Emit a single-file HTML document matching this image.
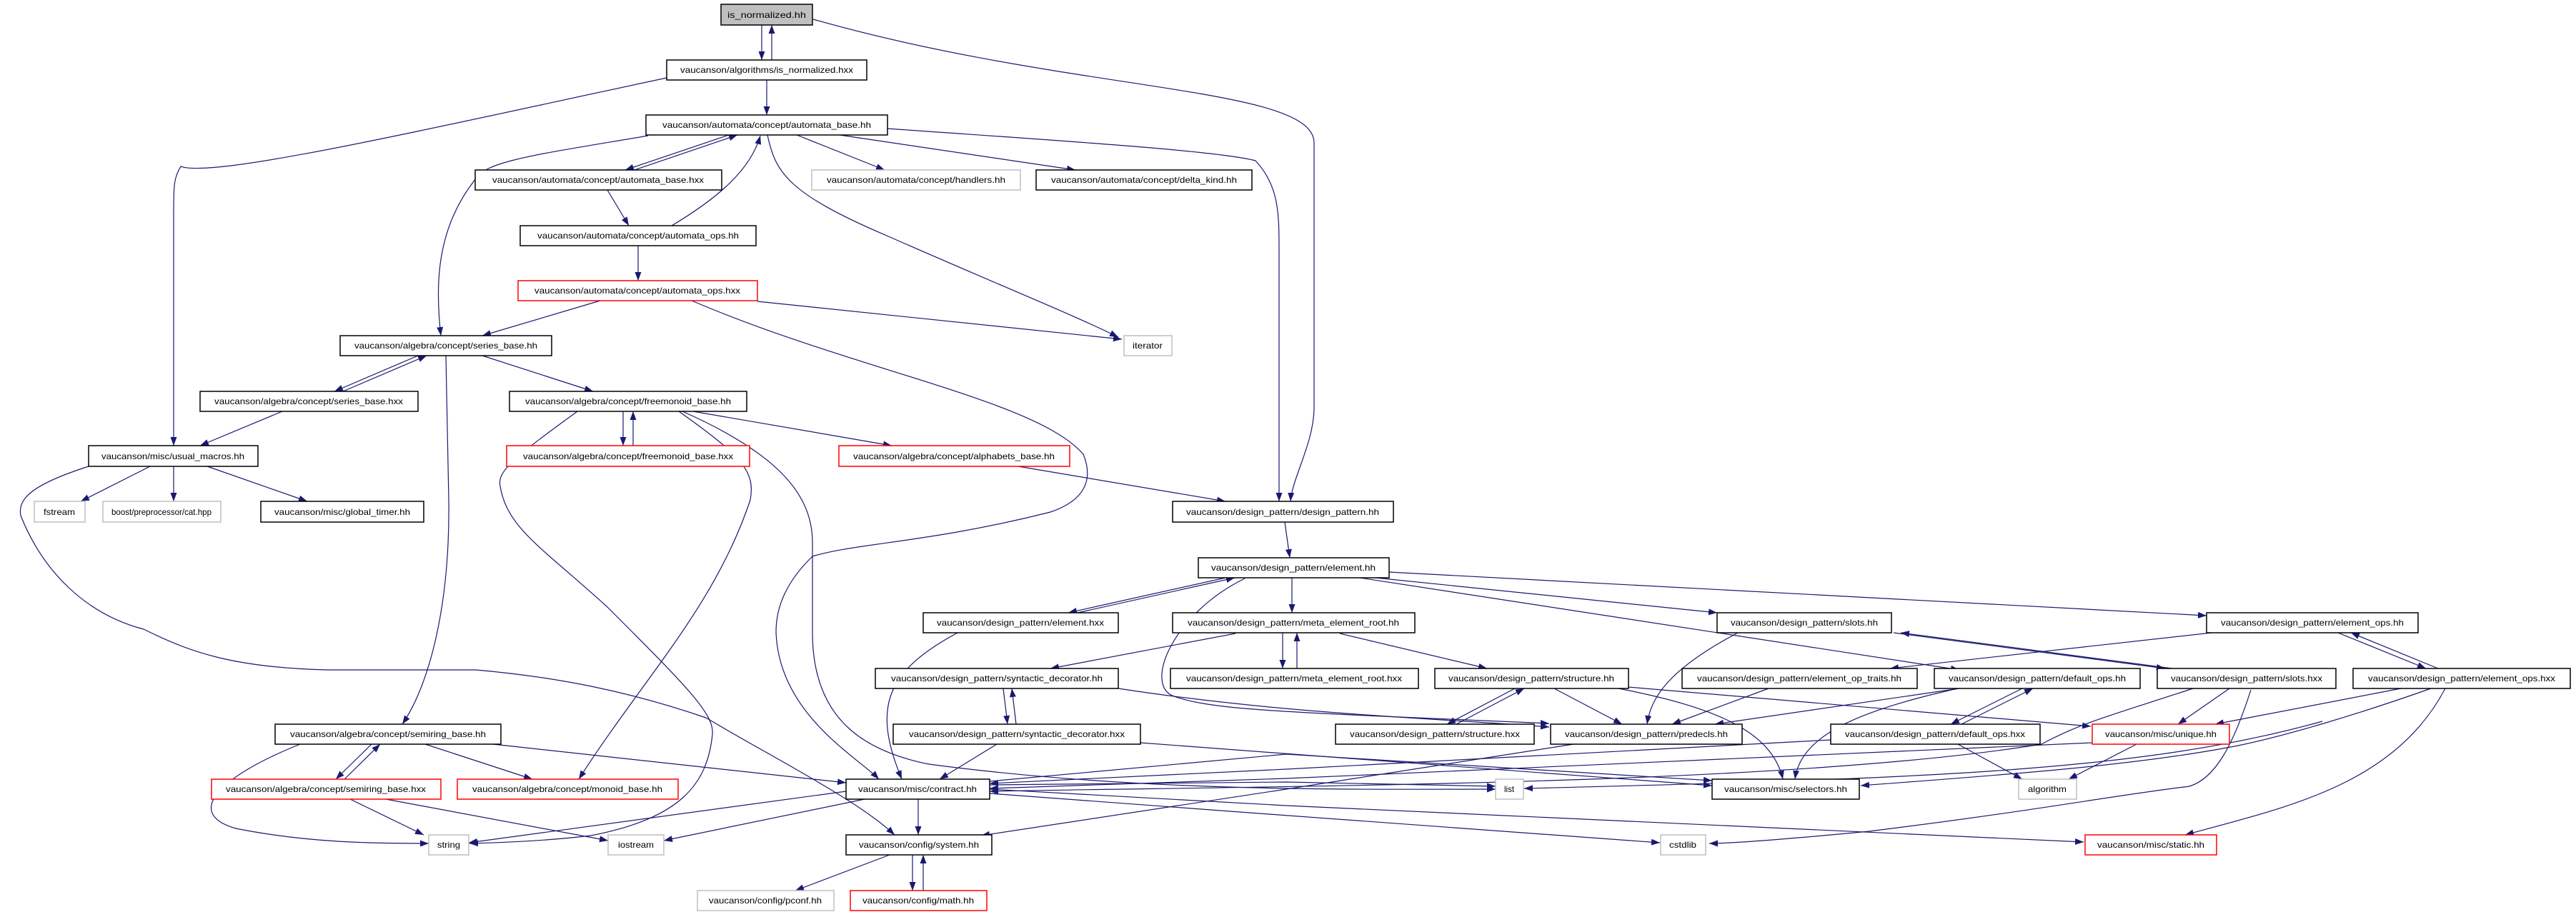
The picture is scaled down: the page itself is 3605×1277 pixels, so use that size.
<!DOCTYPE html>
<html><head><meta charset="utf-8"><style>
html,body{margin:0;padding:0;background:#fff;}
svg{display:block;}
text{font-family:"Liberation Sans",sans-serif;font-size:12px;fill:#000;}
</style></head><body>
<svg width="3605" height="1277" viewBox="0 0 3605 1277" xmlns="http://www.w3.org/2000/svg">
<defs>
<marker id="a" markerUnits="userSpaceOnUse" markerWidth="13" markerHeight="9" refX="12" refY="4.5" orient="auto">
<path d="M0,0 L12,4.5 L0,9 z" fill="#191970"/>
</marker>
</defs>
<g fill="none" stroke="#191970" stroke-width="1.2" marker-end="url(#a)">
<path d="M1066,35 L1066,84"/>
<path d="M1080,84 L1080,35"/>
<path d="M1138,27 C1500,130 1839,120 1839,200 L1839,570 C1839,620 1808,670 1806,702"/>
<path d="M1073,112 L1073,161"/>
<path d="M933,109 C600,180 300,250 253,233 C243,250 243,260 243,300 L243,624"/>
<path d="M1020,189 L875,238"/>
<path d="M888,238 L1032,189"/>
<path d="M1115,189 L1238,238"/>
<path d="M1175,189 L1505,238"/>
<path d="M1242,180 C1450,195 1700,210 1757,225 C1790,260 1790,300 1790,350 L1790,702"/>
<path d="M1074,189 C1085,240 1100,270 1241,330 C1400,400 1500,440 1565,472"/>
<path d="M907,190 C760,215 680,225 666,250 C610,320 609,400 617,470"/>
<path d="M850,266 L880,316"/>
<path d="M940,316 C1000,280 1050,240 1064,190"/>
<path d="M893,344 L893,393"/>
<path d="M840,421 L675,470"/>
<path d="M1060,422 L1570,475"/>
<path d="M968,421 C1200,520 1450,560 1516,636 C1530,670 1520,700 1470,717 C1300,760 1200,760 1137,779 C1100,815 1086,850 1086,885 C1090,1000 1200,1060 1230,1091"/>
<path d="M585,498 L468,548"/>
<path d="M480,548 L597,498"/>
<path d="M675,498 L830,548"/>
<path d="M624,498 L628,700 C630,850 600,960 563,1014"/>
<path d="M395,576 L280,624"/>
<path d="M872,576 L872,624"/>
<path d="M886,624 L886,576"/>
<path d="M808,576 C720,640 695,660 700,681 C710,740 758,766 850,850 C960,960 1000,1000 997,1028 C990,1100 950,1146 827,1170 C760,1178 700,1180 657,1181"/>
<path d="M950,576 C1040,640 1057,660 1050,700 C1000,850 900,950 810,1091"/>
<path d="M955,576 C1100,640 1137,700 1137,760 L1137,885 C1137,1000 1200,1050 1300,1070 C1600,1110 1900,1105 2093,1105"/>
<path d="M970,576 L1248,624"/>
<path d="M1425,653 L1715,702"/>
<path d="M210,653 L113,702"/>
<path d="M243,653 L243,702"/>
<path d="M290,653 L430,702"/>
<path d="M124,653 C40,680 25,700 29,722 C60,800 120,860 201,881 C260,910 320,935 459,938 L666,938 C780,948 880,968 988,1005 C1080,1060 1200,1120 1252,1169"/>
<path d="M1798,731 L1805,781"/>
<path d="M1715,809 L1495,858"/>
<path d="M1508,858 L1728,809"/>
<path d="M1808,809 L1808,858"/>
<path d="M1944,801 L3088,862"/>
<path d="M1903,809 L2742,938"/>
<path d="M1925,809 L2403,858"/>
<path d="M1742,810 C1640,860 1600,960 1643,975 C1700,995 1800,997 2168,1013"/>
<path d="M1795,886 L1795,936"/>
<path d="M1815,936 L1815,886"/>
<path d="M1875,887 L2081,936"/>
<path d="M1729,887 L1470,936"/>
<path d="M1404,964 L1410,1014"/>
<path d="M1422,1014 L1416,964"/>
<path d="M1565,964 C1800,1000 2000,1005 2168,1018"/>
<path d="M1395,1042 L1315,1091"/>
<path d="M1596,1040 L2396,1100"/>
<path d="M1340,886 C1240,940 1220,990 1262,1091"/>
<path d="M2120,964 L2025,1014"/>
<path d="M2038,1014 L2133,964"/>
<path d="M2175,964 L2270,1014"/>
<path d="M2265,964 C2400,990 2480,1024 2495,1091"/>
<path d="M2279,962 L2926,1017"/>
<path d="M2475,964 L2340,1014"/>
<path d="M2432,886 C2330,940 2310,980 2305,1014"/>
<path d="M2650,886 L3030,936"/>
<path d="M3040,936 L2660,886"/>
<path d="M3095,886 L2645,936"/>
<path d="M3272,886 L3395,936"/>
<path d="M3412,936 L3290,886"/>
<path d="M2742,964 L2400,1014"/>
<path d="M2830,964 L2730,1014"/>
<path d="M2745,1014 L2845,964"/>
<path d="M2740,964 C2600,995 2520,1030 2512,1091"/>
<path d="M2740,1042 L2830,1091"/>
<path d="M2562,1036 L1800,1077 L1385,1097"/>
<path d="M2202,1042 L1800,1105 L1373,1170"/>
<path d="M2990,1042 L2895,1091"/>
<path d="M2928,1040 L1800,1090 L1385,1104"/>
<path d="M3069,964 C2960,1000 2914,1011 2857,1042 C2500,1100 1800,1100 1385,1108"/>
<path d="M3120,964 L3048,1014"/>
<path d="M3150,966 C3125,1044 3100,1090 3064,1101 C2950,1115 2857,1134 2616,1164 C2500,1175 2420,1181 2392,1181"/>
<path d="M3360,964 L3100,1014"/>
<path d="M3402,964 C3300,1000 3200,1030 3132,1044 C3000,1070 2834,1083 2604,1100"/>
<path d="M3422,964 C3350,1100 3200,1130 3058,1169"/>
<path d="M3250,1010 C3000,1080 2700,1090 2133,1104"/>
<path d="M1184,1108 L656,1180"/>
<path d="M1210,1119 L929,1177"/>
<path d="M1285,1119 L1285,1169"/>
<path d="M1385,1111 L1803,1142 L2323,1180"/>
<path d="M1385,1105 L1800,1128 L2916,1179"/>
<path d="M1385,1099 L1800,1095 L2093,1101"/>
<path d="M1385,1094 L1800,1056 L2396,1093"/>
<path d="M520,1042 L470,1091"/>
<path d="M482,1091 L532,1042"/>
<path d="M595,1042 L745,1091"/>
<path d="M690,1042 L1184,1096"/>
<path d="M420,1042 C300,1090 260,1140 330,1160 C430,1180 520,1181 600,1181"/>
<path d="M490,1119 L593,1169"/>
<path d="M540,1119 L851,1177"/>
<path d="M1245,1197 L1113,1247"/>
<path d="M1277,1197 L1277,1247"/>
<path d="M1292,1247 L1292,1197"/>
</g>
<g stroke-width="1.5" text-anchor="middle" font-family="Liberation Sans, sans-serif">
<rect x="1009" y="6" width="128" height="29" fill="#bfbfbf" stroke="#000"/><text x="1073" y="25" textLength="110" lengthAdjust="spacingAndGlyphs">is_normalized.hh</text>
<rect x="933" y="84" width="280" height="28" fill="#fff" stroke="#000"/><text x="1073" y="102" textLength="242" lengthAdjust="spacingAndGlyphs">vaucanson/algorithms/is_normalized.hxx</text>
<rect x="904" y="161" width="338" height="28" fill="#fff" stroke="#000"/><text x="1073" y="179" textLength="292" lengthAdjust="spacingAndGlyphs">vaucanson/automata/concept/automata_base.hh</text>
<rect x="665" y="238" width="345" height="28" fill="#fff" stroke="#000"/><text x="837" y="256" textLength="296" lengthAdjust="spacingAndGlyphs">vaucanson/automata/concept/automata_base.hxx</text>
<rect x="1136" y="238" width="292" height="28" fill="#fff" stroke="#bfbfbf"/><text x="1282" y="256" textLength="250" lengthAdjust="spacingAndGlyphs">vaucanson/automata/concept/handlers.hh</text>
<rect x="1450" y="238" width="302" height="28" fill="#fff" stroke="#000"/><text x="1601" y="256" textLength="260" lengthAdjust="spacingAndGlyphs">vaucanson/automata/concept/delta_kind.hh</text>
<rect x="728" y="316" width="330" height="28" fill="#fff" stroke="#000"/><text x="893" y="334" textLength="282" lengthAdjust="spacingAndGlyphs">vaucanson/automata/concept/automata_ops.hh</text>
<rect x="725" y="393" width="335" height="28" fill="#fff" stroke="#ff0000"/><text x="892" y="411" textLength="288" lengthAdjust="spacingAndGlyphs">vaucanson/automata/concept/automata_ops.hxx</text>
<rect x="1573" y="470" width="67" height="28" fill="#fff" stroke="#bfbfbf"/><text x="1606" y="488" textLength="42" lengthAdjust="spacingAndGlyphs">iterator</text>
<rect x="476" y="470" width="296" height="28" fill="#fff" stroke="#000"/><text x="624" y="488" textLength="256" lengthAdjust="spacingAndGlyphs">vaucanson/algebra/concept/series_base.hh</text>
<rect x="280" y="548" width="305" height="28" fill="#fff" stroke="#000"/><text x="432" y="566" textLength="264" lengthAdjust="spacingAndGlyphs">vaucanson/algebra/concept/series_base.hxx</text>
<rect x="713" y="548" width="332" height="28" fill="#fff" stroke="#000"/><text x="879" y="566" textLength="288" lengthAdjust="spacingAndGlyphs">vaucanson/algebra/concept/freemonoid_base.hh</text>
<rect x="124" y="624" width="237" height="29" fill="#fff" stroke="#000"/><text x="242" y="643" textLength="200" lengthAdjust="spacingAndGlyphs">vaucanson/misc/usual_macros.hh</text>
<rect x="709" y="624" width="340" height="29" fill="#fff" stroke="#ff0000"/><text x="879" y="643" textLength="294" lengthAdjust="spacingAndGlyphs">vaucanson/algebra/concept/freemonoid_base.hxx</text>
<rect x="1174" y="624" width="323" height="29" fill="#fff" stroke="#ff0000"/><text x="1335" y="643" textLength="282" lengthAdjust="spacingAndGlyphs">vaucanson/algebra/concept/alphabets_base.hh</text>
<rect x="48" y="702" width="71" height="29" fill="#fff" stroke="#bfbfbf"/><text x="83" y="721" textLength="44" lengthAdjust="spacingAndGlyphs">fstream</text>
<rect x="144" y="702" width="165" height="29" fill="#fff" stroke="#bfbfbf"/><text x="226" y="721" textLength="140" lengthAdjust="spacingAndGlyphs">boost/preprocessor/cat.hpp</text>
<rect x="365" y="702" width="228" height="29" fill="#fff" stroke="#000"/><text x="479" y="721" textLength="190" lengthAdjust="spacingAndGlyphs">vaucanson/misc/global_timer.hh</text>
<rect x="1641" y="702" width="309" height="29" fill="#fff" stroke="#000"/><text x="1795" y="721" textLength="270" lengthAdjust="spacingAndGlyphs">vaucanson/design_pattern/design_pattern.hh</text>
<rect x="1677" y="781" width="267" height="28" fill="#fff" stroke="#000"/><text x="1810" y="799" textLength="230" lengthAdjust="spacingAndGlyphs">vaucanson/design_pattern/element.hh</text>
<rect x="1292" y="858" width="273" height="28" fill="#fff" stroke="#000"/><text x="1428" y="876" textLength="234" lengthAdjust="spacingAndGlyphs">vaucanson/design_pattern/element.hxx</text>
<rect x="1641" y="858" width="339" height="28" fill="#fff" stroke="#000"/><text x="1810" y="876" textLength="296" lengthAdjust="spacingAndGlyphs">vaucanson/design_pattern/meta_element_root.hh</text>
<rect x="2403" y="858" width="244" height="28" fill="#fff" stroke="#000"/><text x="2525" y="876" textLength="206" lengthAdjust="spacingAndGlyphs">vaucanson/design_pattern/slots.hh</text>
<rect x="3088" y="858" width="296" height="28" fill="#fff" stroke="#000"/><text x="3236" y="876" textLength="256" lengthAdjust="spacingAndGlyphs">vaucanson/design_pattern/element_ops.hh</text>
<rect x="1225" y="936" width="340" height="28" fill="#fff" stroke="#000"/><text x="1395" y="954" textLength="296" lengthAdjust="spacingAndGlyphs">vaucanson/design_pattern/syntactic_decorator.hh</text>
<rect x="1638" y="936" width="347" height="28" fill="#fff" stroke="#000"/><text x="1811" y="954" textLength="302" lengthAdjust="spacingAndGlyphs">vaucanson/design_pattern/meta_element_root.hxx</text>
<rect x="2008" y="936" width="271" height="28" fill="#fff" stroke="#000"/><text x="2143" y="954" textLength="232" lengthAdjust="spacingAndGlyphs">vaucanson/design_pattern/structure.hh</text>
<rect x="2354" y="936" width="329" height="28" fill="#fff" stroke="#000"/><text x="2518" y="954" textLength="286" lengthAdjust="spacingAndGlyphs">vaucanson/design_pattern/element_op_traits.hh</text>
<rect x="2707" y="936" width="288" height="28" fill="#fff" stroke="#000"/><text x="2851" y="954" textLength="248" lengthAdjust="spacingAndGlyphs">vaucanson/design_pattern/default_ops.hh</text>
<rect x="3019" y="936" width="250" height="28" fill="#fff" stroke="#000"/><text x="3144" y="954" textLength="212" lengthAdjust="spacingAndGlyphs">vaucanson/design_pattern/slots.hxx</text>
<rect x="3293" y="936" width="304" height="28" fill="#fff" stroke="#000"/><text x="3445" y="954" textLength="262" lengthAdjust="spacingAndGlyphs">vaucanson/design_pattern/element_ops.hxx</text>
<rect x="385" y="1014" width="316" height="28" fill="#fff" stroke="#000"/><text x="543" y="1032" textLength="274" lengthAdjust="spacingAndGlyphs">vaucanson/algebra/concept/semiring_base.hh</text>
<rect x="1250" y="1014" width="346" height="28" fill="#fff" stroke="#000"/><text x="1423" y="1032" textLength="302" lengthAdjust="spacingAndGlyphs">vaucanson/design_pattern/syntactic_decorator.hxx</text>
<rect x="1869" y="1014" width="278" height="28" fill="#fff" stroke="#000"/><text x="2008" y="1032" textLength="238" lengthAdjust="spacingAndGlyphs">vaucanson/design_pattern/structure.hxx</text>
<rect x="2170" y="1014" width="268" height="28" fill="#fff" stroke="#000"/><text x="2304" y="1032" textLength="228" lengthAdjust="spacingAndGlyphs">vaucanson/design_pattern/predecls.hh</text>
<rect x="2562" y="1014" width="293" height="28" fill="#fff" stroke="#000"/><text x="2708" y="1032" textLength="252" lengthAdjust="spacingAndGlyphs">vaucanson/design_pattern/default_ops.hxx</text>
<rect x="2928" y="1014" width="192" height="28" fill="#fff" stroke="#ff0000"/><text x="3024" y="1032" textLength="156" lengthAdjust="spacingAndGlyphs">vaucanson/misc/unique.hh</text>
<rect x="296" y="1091" width="321" height="28" fill="#fff" stroke="#ff0000"/><text x="456" y="1109" textLength="280" lengthAdjust="spacingAndGlyphs">vaucanson/algebra/concept/semiring_base.hxx</text>
<rect x="640" y="1091" width="309" height="28" fill="#fff" stroke="#ff0000"/><text x="794" y="1109" textLength="266" lengthAdjust="spacingAndGlyphs">vaucanson/algebra/concept/monoid_base.hh</text>
<rect x="1184" y="1091" width="201" height="28" fill="#fff" stroke="#000"/><text x="1284" y="1109" textLength="166" lengthAdjust="spacingAndGlyphs">vaucanson/misc/contract.hh</text>
<rect x="2093" y="1091" width="39" height="28" fill="#fff" stroke="#bfbfbf"/><text x="2112" y="1109" textLength="14" lengthAdjust="spacingAndGlyphs">list</text>
<rect x="2396" y="1091" width="206" height="28" fill="#fff" stroke="#000"/><text x="2499" y="1109" textLength="172" lengthAdjust="spacingAndGlyphs">vaucanson/misc/selectors.hh</text>
<rect x="2825" y="1091" width="81" height="28" fill="#fff" stroke="#bfbfbf"/><text x="2865" y="1109" textLength="54" lengthAdjust="spacingAndGlyphs">algorithm</text>
<rect x="600" y="1169" width="56" height="28" fill="#fff" stroke="#bfbfbf"/><text x="628" y="1187" textLength="32" lengthAdjust="spacingAndGlyphs">string</text>
<rect x="851" y="1169" width="78" height="28" fill="#fff" stroke="#bfbfbf"/><text x="890" y="1187" textLength="50" lengthAdjust="spacingAndGlyphs">iostream</text>
<rect x="1184" y="1169" width="204" height="28" fill="#fff" stroke="#000"/><text x="1286" y="1187" textLength="168" lengthAdjust="spacingAndGlyphs">vaucanson/config/system.hh</text>
<rect x="2324" y="1169" width="63" height="28" fill="#fff" stroke="#bfbfbf"/><text x="2355" y="1187" textLength="38" lengthAdjust="spacingAndGlyphs">cstdlib</text>
<rect x="2918" y="1169" width="184" height="28" fill="#fff" stroke="#ff0000"/><text x="3010" y="1187" textLength="150" lengthAdjust="spacingAndGlyphs">vaucanson/misc/static.hh</text>
<rect x="976" y="1247" width="191" height="28" fill="#fff" stroke="#bfbfbf"/><text x="1071" y="1265" textLength="158" lengthAdjust="spacingAndGlyphs">vaucanson/config/pconf.hh</text>
<rect x="1190" y="1247" width="191" height="28" fill="#fff" stroke="#ff0000"/><text x="1285" y="1265" textLength="156" lengthAdjust="spacingAndGlyphs">vaucanson/config/math.hh</text>
</g>
</svg>
</body></html>
